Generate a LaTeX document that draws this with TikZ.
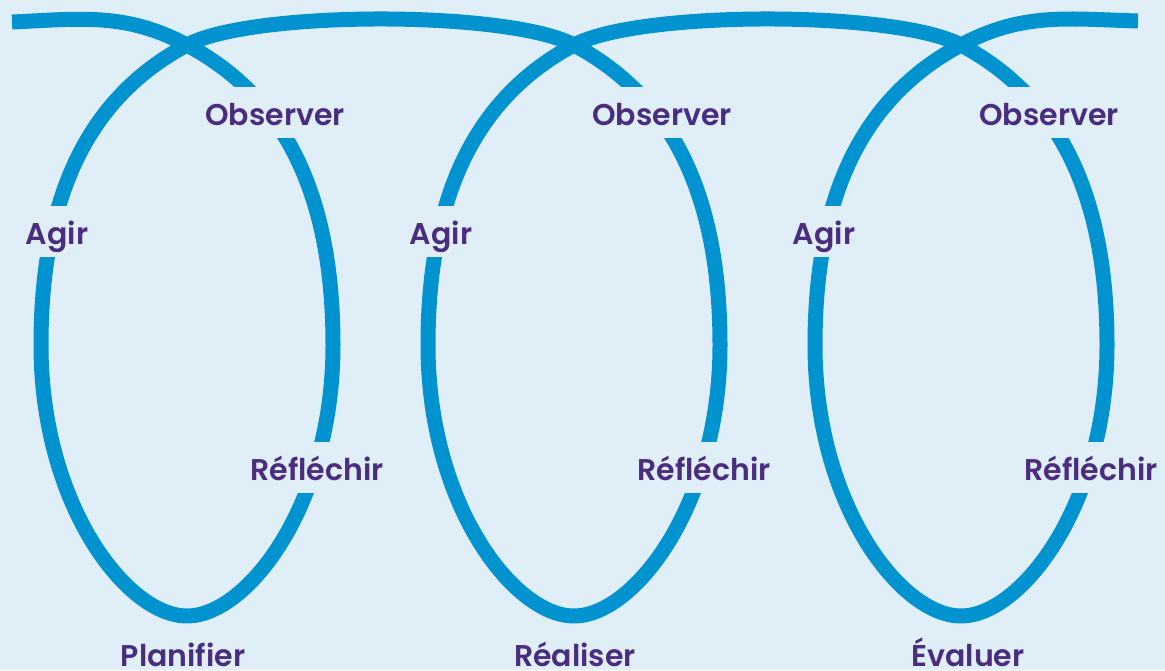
\documentclass[tikz,border=0pt]{standalone}
\usepackage{fontspec}
\setmainfont{Poppins}[BoldFont={Poppins SemiBold}]
\definecolor{bg}{RGB}{223,238,247}
\definecolor{coil}{RGB}{0,147,208}
\definecolor{lab}{RGB}{74,45,126}
\begin{document}
\begin{tikzpicture}[x=1pt,y=-1pt,
  coilline/.style={draw=coil,line width=15pt,line cap=butt,line join=round},
  lbl/.style={font=\fontsize{30}{36}\selectfont\bfseries,text=lab,fill=bg,inner xsep=3pt,inner ysep=0pt,minimum height=51pt,text height=30pt,text depth=4pt,anchor=center},
  phase/.style={font=\fontsize{30}{36}\selectfont\bfseries,text=lab,anchor=base,inner sep=0pt}]
\fill[bg] (0,0) rectangle (1165,670);
\useasboundingbox (0,0) rectangle (1165,670);
\coordinate (s) at (12,22);
\coordinate (x1) at (187,45);
\coordinate (x2) at (574,45);
\coordinate (x3) at (961,45);
\coordinate (e) at (1138,21);
\path[coilline] (s) .. controls (80,19) and (125,12) .. (x1)
  .. controls (275,92) and (333,180) .. (333,345)
  .. controls (333,505) and (247,616) .. (187,616)
  .. controls (127,616) and (41,505) .. (41,345)
  .. controls (41,180) and (99,92) .. (x1)
  .. controls (252,10.3) and (509,10.3) .. (x2)
  .. controls (662,92) and (720,180) .. (720,345)
  .. controls (720,505) and (634,616) .. (574,616)
  .. controls (514,616) and (428,505) .. (428,345)
  .. controls (428,180) and (486,92) .. (x2)
  .. controls (639,10.3) and (896,10.3) .. (x3)
  .. controls (1049,92) and (1107,180) .. (1107,345)
  .. controls (1107,505) and (1021,616) .. (961,616)
  .. controls (901,616) and (815,505) .. (815,345)
  .. controls (815,180) and (873,92) .. (x3)
  .. controls (1023,12) and (1068,19) .. (e);
\node[lbl] (o1) at (275,112) {Observer};
\node[lbl] (o2) at (662,112) {Observer};
\node[lbl] (o3) at (1049,112) {Observer};
\node[lbl] (a1) at (57,231.5) {Agir};
\node[lbl] (a2) at (441,231.5) {Agir};
\node[lbl] (a3) at (824,231.5) {Agir};
\node[lbl] (r1) at (317,467.5) {Réfléchir};
\node[lbl] (r2) at (704,467.5) {Réfléchir};
\node[lbl] (r3) at (1091,467.5) {Réfléchir};
\node[phase] (p1) at (183,666) {Planifier};
\node[phase] (p2) at (575,666) {Réaliser};
\node[phase] (p3) at (968,666) {Évaluer};
\end{tikzpicture}
\end{document}
